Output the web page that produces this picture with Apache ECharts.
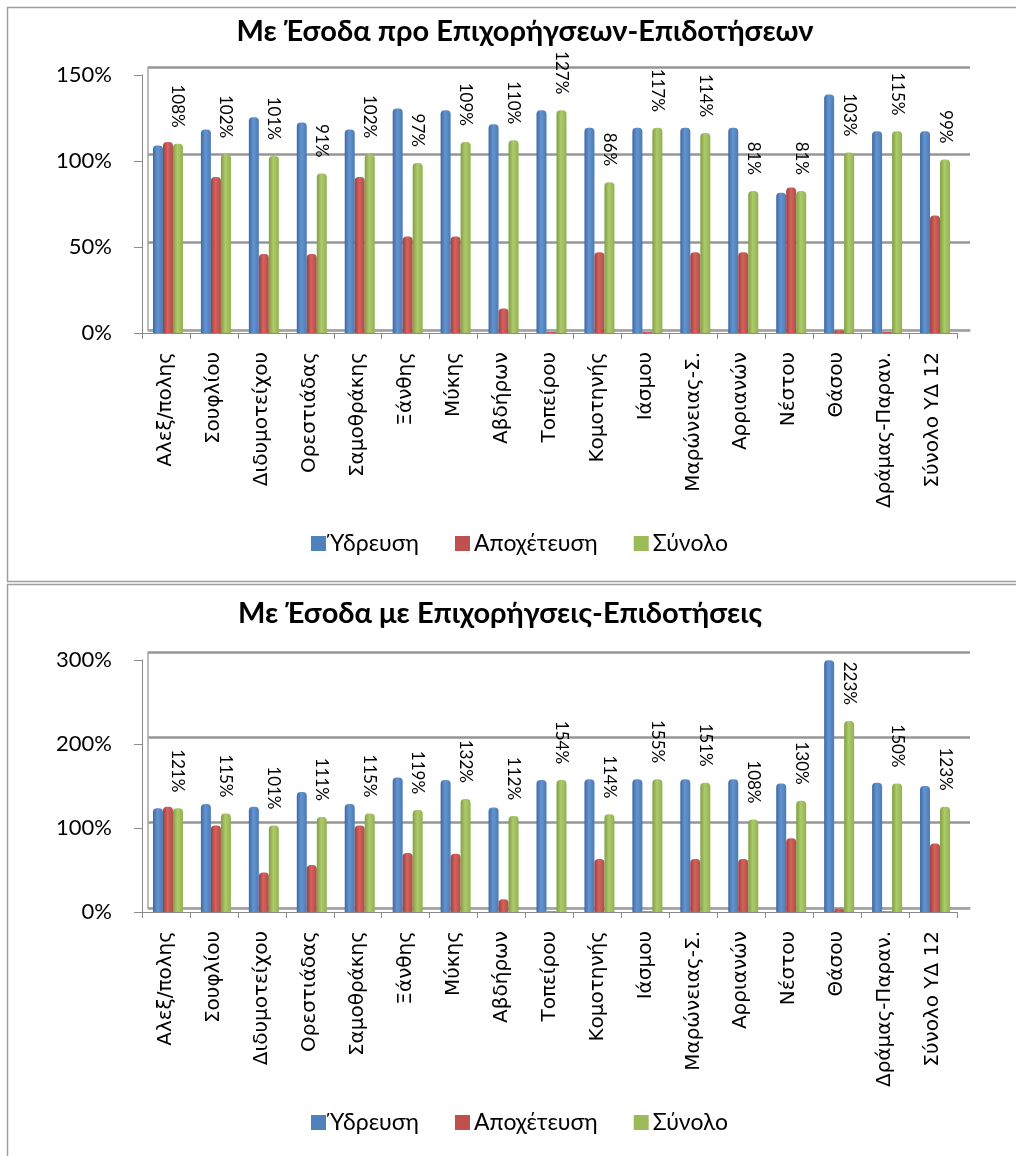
<!DOCTYPE html>
<html>
<head>
<meta charset="utf-8">
<script src="https://cdn.jsdelivr.net/npm/echarts@6/dist/echarts.min.js"></script>
<style>
  html, body { margin: 0; padding: 0; background: #fff; }
  #chart { width: 1016px; height: 1156px; }
</style>
</head>
<body>
<div id="chart"></div>
<script>
// Water / sewerage cost coverage per municipal utility
const categories = ['Αλεξ/πολης', 'Σουφλίου', 'Διδυμοτείχου', 'Ορεστιάδας', 'Σαμοθράκης', 'Ξάνθης', 'Μύκης', 'Αβδήρων', 'Τοπείρου', 'Κομοτηνής', 'Ιάσμου', 'Μαρώνειας-Σ.', 'Αρριανών', 'Νέστου', 'Θάσου', 'Δράμας-Παραν.', 'Σύνολο ΥΔ 12'];
const seriesNames = ['Ύδρευση', 'Αποχέτευση', 'Σύνολο'];

// Revenue before grants/subsidies (%)
const water1 = [107, 116, 123, 120, 116, 128, 127, 119, 127, 117, 117, 117, 117, 80, 136, 115, 115];
const sewer1 = [109, 89, 45, 45, 89, 55, 55, 14, 0.6, 46, 0.6, 46, 46, 83, 1.5, 0.6, 67];
const total1 = [108, 102, 101, 91, 102, 97, 109, 110, 127, 86, 117, 114, 81, 81, 103, 115, 99];

// Revenue including grants/subsidies (%)
const water2 = [121, 126, 123, 140, 126, 157, 154, 122, 154, 155, 155, 155, 155, 150, 294, 151, 147];
const sewer2 = [123, 101, 46, 55, 101, 69, 68, 15, 1, 62, 1, 62, 62, 86, 4, 1, 80];
const total2 = [121, 115, 101, 111, 115, 119, 132, 112, 154, 114, 155, 151, 108, 130, 223, 150, 123];

const yTicks1 = { min: 0, max: 150, interval: 50 };
const yTicks2 = { min: 0, max: 300, interval: 100 };

const titles = ['Με Έσοδα προ Επιχορήγσεων-Επιδοτήσεων', 'Με Έσοδα με Επιχορήγσεις-Επιδοτήσεις'];

const baseColors = ['#4F81BD', '#C0504D', '#9BBB59'];
const shades = [
  ['#3C69A3', '#6494D0', '#4A7BB8'],
  ['#A13D3A', '#D2645F', '#B44A46'],
  ['#7F9E43', '#AECB6A', '#91B150']
];
function columnFill(i) {
  return new echarts.graphic.LinearGradient(0, 0, 1, 0, [
    { offset: 0, color: shades[i][0] },
    { offset: 0.45, color: shades[i][1] },
    { offset: 1, color: shades[i][2] }
  ]);
}

const FONT = 'Lato, "Open Sans", sans-serif';
const CAT_FONT = '"DejaVu Sans", sans-serif';

// Panel geometry: front axes, back wall, and the plotting grid for the columns
const panels = [
  { front: { left: 142, top: 75, width: 815, height: 258 },
    back:  { left: 148, top: 67, width: 822, height: 263 },
    bars:  { left: 144, top: 70, width: 815, height: 263 },
    ticks: yTicks1, data: [water1, sewer1, total1] },
  { front: { left: 142, top: 660, width: 815, height: 252 },
    back:  { left: 148, top: 652, width: 822, height: 256 },
    bars:  { left: 144, top: 655, width: 815, height: 257 },
    ticks: yTicks2, data: [water2, sewer2, total2] }
];

const grid = [], xAxis = [], yAxis = [], series = [];
panels.forEach((p, pi) => {
  const gFront = grid.length;
  grid.push(p.front, p.back, p.bars);
  // front axes
  xAxis.push({
    type: 'category', gridIndex: gFront, data: categories,
    axisLine: { show: true, lineStyle: { color: '#8a8a8a', width: 1 } },
    axisTick: { show: true, length: 6, lineStyle: { color: '#8a8a8a' } },
    axisLabel: { rotate: 90, margin: 19, interval: 0, color: '#000', fontFamily: CAT_FONT, fontSize: 20 },
    splitLine: { show: false }
  });
  yAxis.push({
    type: 'value', gridIndex: gFront, min: p.ticks.min, max: p.ticks.max, interval: p.ticks.interval,
    axisLine: { show: true, lineStyle: { color: '#8a8a8a', width: 1 } },
    axisTick: { show: true, length: 8, lineStyle: { color: '#8a8a8a' } },
    axisLabel: { formatter: '{value}%', margin: 30, color: '#000', fontFamily: FONT, fontSize: 22, padding: [8, 0, 0, 0] },
    splitLine: { show: false }
  });
  // back wall with gridlines
  xAxis.push({
    type: 'category', gridIndex: gFront + 1, data: categories,
    axisLine: { show: true, lineStyle: { color: '#a6a6a6', width: 1.5 } },
    axisTick: { show: false }, axisLabel: { show: false }, splitLine: { show: false }
  });
  yAxis.push({
    type: 'value', gridIndex: gFront + 1, min: p.ticks.min, max: p.ticks.max, interval: p.ticks.interval,
    axisLine: { show: true, lineStyle: { color: '#a6a6a6', width: 1.5 } },
    axisTick: { show: false }, axisLabel: { show: false },
    splitLine: { show: true, lineStyle: { color: '#969696', width: 2.5 } }
  });
  // columns
  const xi = xAxis.length, yi = yAxis.length;
  xAxis.push({
    type: 'category', gridIndex: gFront + 2, data: categories,
    axisLine: { show: false }, axisTick: { show: false }, axisLabel: { show: false }, splitLine: { show: false }
  });
  yAxis.push({
    type: 'value', gridIndex: gFront + 2, min: p.ticks.min, max: p.ticks.max,
    axisLine: { show: false }, axisTick: { show: false }, axisLabel: { show: false }, splitLine: { show: false }
  });
  p.data.forEach((values, si) => {
    const s = {
      name: seriesNames[si], type: 'bar', xAxisIndex: xi, yAxisIndex: yi,
      data: values, barWidth: 10, barGap: '0%',
      itemStyle: { color: columnFill(si), borderRadius: [4, 4, 0, 0] },
      emphasis: { disabled: true }, z: 3
    };
    if (si === 2) {
      s.label = {
        show: true, position: 'top', distance: 14, rotate: -90,
        align: 'right', verticalAlign: 'middle', offset: [-2, 0],
        formatter: '{c}%', color: '#000', fontFamily: FONT, fontSize: 17
      };
    }
    series.push(s);
  });
});

const legendData = seriesNames.map((n, i) => ({ name: n, itemStyle: { color: baseColors[i] } }));
const legendCommon = {
  data: legendData, left: 306, icon: 'rect', itemWidth: 15, itemHeight: 15, itemGap: 36,
  selectedMode: false, textStyle: { color: '#000', fontFamily: FONT, fontSize: 23, padding: [0, 0, 0, -1] }
};

const option = {
  animation: false,
  backgroundColor: '#fff',
  title: [
    { text: titles[0], left: 520, top: 12, textAlign: 'center',
      textStyle: { fontFamily: FONT, fontWeight: 'bold', fontSize: 29, color: '#000' } },
    { text: titles[1], left: 495, top: 594, textAlign: 'center',
      textStyle: { fontFamily: FONT, fontWeight: 'bold', fontSize: 29, color: '#000' } }
  ],
  legend: [
    Object.assign({ top: 527 }, legendCommon),
    Object.assign({ top: 1106 }, legendCommon)
  ],
  graphic: [
    { type: 'rect', shape: { x: 7.5, y: 7.5, width: 1040, height: 574 },
      style: { fill: null, stroke: '#a0a0a0', lineWidth: 1.5 }, z: -1 },
    { type: 'rect', shape: { x: 7.5, y: 584.5, width: 1040, height: 600 },
      style: { fill: null, stroke: '#a0a0a0', lineWidth: 1.5 }, z: -1 }
  ],
  grid, xAxis, yAxis, series
};

const chart = echarts.init(document.getElementById('chart'), null, { renderer: 'canvas' });
chart.setOption(option);
</script>
</body>
</html>
